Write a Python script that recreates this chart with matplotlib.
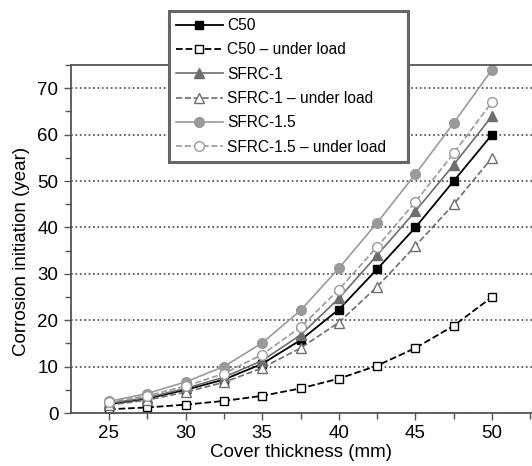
import matplotlib
matplotlib.use("Agg")
import matplotlib.pyplot as plt
from matplotlib.ticker import MultipleLocator

plt.rcParams['font.family'] = ['Liberation Sans', 'DejaVu Sans']

cover = [25, 27.5, 30, 32.5, 35, 37.5, 40, 42.5, 45, 47.5, 50]
c50 = [1.9, 3.1, 5.0, 7.2, 10.6, 15.7, 22.3, 31.0, 40.0, 50.0, 60.0]
c50_load = [0.8, 1.2, 1.8, 2.6, 3.7, 5.3, 7.4, 10.2, 14.0, 18.8, 25.0]
sfrc1 = [2.1, 3.3, 5.3, 7.7, 11.3, 16.8, 24.7, 34.0, 43.5, 53.5, 64.0]
sfrc1_load = [1.7, 2.8, 4.5, 6.6, 9.7, 14.0, 19.5, 27.2, 36.0, 45.0, 55.0]
sfrc15 = [2.5, 4.2, 6.7, 10.0, 15.1, 22.1, 31.2, 41.0, 51.5, 62.5, 74.0]
sfrc15_load = [2.3, 3.7, 5.8, 8.5, 12.6, 18.5, 26.6, 35.8, 45.5, 56.0, 67.0]

fig = plt.figure(figsize=(5.32, 4.66), dpi=100)
ax = fig.add_axes([71 / 532, 53 / 466, 461 / 532, 348 / 466])

dark = '#6e6e6e'
light = '#9a9a9a'
ms = 6
ax.plot(cover, c50, '-', color='black', marker='s', ms=ms, lw=1.3, label='C50')
ax.plot(cover, c50_load, '--', color='black', marker='s', ms=ms, mfc='white', lw=1.3,
        label='C50 – under load')
ax.plot(cover, sfrc1, '-', color=dark, marker='^', ms=ms + 1, lw=1.2, label='SFRC-1')
ax.plot(cover, sfrc1_load, '--', color=dark, marker='^', ms=ms + 1, mfc='white', lw=1.2,
        label='SFRC-1 – under load')
ax.plot(cover, sfrc15, '-', color=light, marker='o', ms=ms + 1, lw=1.2, label='SFRC-1.5')
ax.plot(cover, sfrc15_load, '--', color=light, marker='o', ms=ms + 1, mfc='white', lw=1.2,
        label='SFRC-1.5 – under load')

ax.set_xlim(22.52, 52.61)
ax.set_ylim(0, 75)
ax.xaxis.set_major_locator(MultipleLocator(5))
ax.xaxis.set_minor_locator(MultipleLocator(2.5))
ax.yaxis.set_major_locator(MultipleLocator(10))
ax.yaxis.set_minor_locator(MultipleLocator(5))
ax.tick_params(which='major', length=5, width=1, color='#555555', labelsize=13.5, pad=4)
ax.tick_params(which='minor', length=4, width=1, color='#555555')
ax.grid(axis='y', which='major', linestyle=':', color='#444444', lw=1.2)

ax.spines['right'].set_visible(False)
for s in ['left', 'bottom', 'top']:
    ax.spines[s].set_color('#555555')
    ax.spines[s].set_linewidth(1.3)

ax.set_xlabel('Cover thickness (mm)', fontsize=13.5, labelpad=1)
ax.set_ylabel('Corrosion initiation (year)', fontsize=13.5)
ax.yaxis.set_label_coords(-0.09, 0.463)

# legend box sits partly above the axes, wider than its text
leg = ax.legend(loc='upper left', bbox_to_anchor=(169 / 532, 1 - 11 / 466, 239 / 532, 0),
                bbox_transform=fig.transFigure, mode='expand', borderaxespad=0,
                fancybox=False, fontsize=11.2, handlelength=3.0, labelspacing=0.6,
                framealpha=1, borderpad=0.45, handletextpad=0.3)
leg.get_frame().set_edgecolor('#666666')
leg.get_frame().set_linewidth(2.2)

fig.savefig('out.png', dpi=100)
